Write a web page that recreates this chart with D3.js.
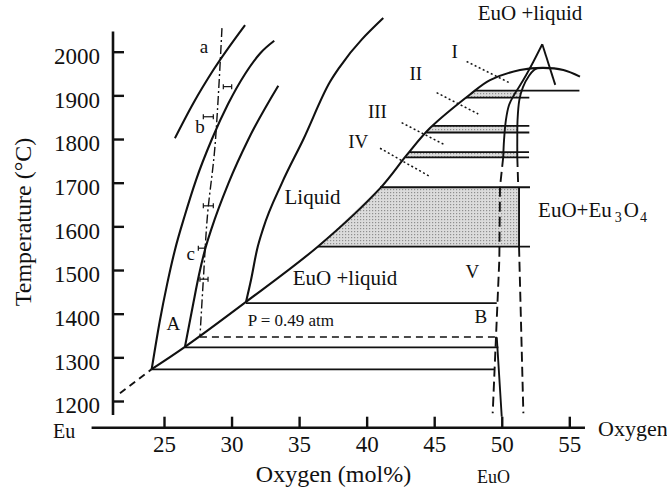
<!DOCTYPE html>
<html><head><meta charset="utf-8">
<script src="https://cdn.jsdelivr.net/npm/d3@7"></script>
<style>
html,body{margin:0;padding:0;background:#fff;}
svg{display:block;}
text{font-family:"Liberation Serif","Times New Roman","DejaVu Serif",serif;fill:#111;}
</style></head><body>
<svg id="chart" width="667" height="492"></svg>
<script>
// ---------- data (x: oxygen mol%, y: temperature °C) ----------
const xTicks = [25, 30, 35, 40, 45, 50, 55];
const yTicks = [1200, 1300, 1400, 1500, 1600, 1700, 1800, 1900, 2000];

const liquidusExt = [[21.74, 1218], [24.09, 1273]];
const liquidus = [[24.09, 1273], [26.55, 1324], [31.07, 1427], [36.40, 1554], [40.99, 1687],
  [42.96, 1763], [44.69, 1825], [47.65, 1902], [49.13, 1935], [51.35, 1958], [53.08, 1963],
  [54.56, 1958], [55.79, 1943]];
const curveA = [[25.81, 1802], [27.17, 1882], [28.65, 1958], [31.0, 2061]];
const curveB = [[24.09, 1273], [24.70, 1385], [25.22, 1466], [25.81, 1546], [26.55, 1626],
  [27.37, 1706], [28.55, 1800], [29.74, 1880], [31.0, 1949], [32.11, 1996], [33.16, 2025]];
const curveC = [[26.55, 1324], [27.17, 1424], [27.59, 1489], [28.03, 1546], [28.53, 1596],
  [29.76, 1698], [31.24, 1799], [33.46, 1922]];
const curveLiquid = [[31.07, 1427], [31.44, 1477], [31.88, 1546], [32.35, 1596], [33.71, 1698],
  [35.31, 1799], [37.29, 1931], [38.03, 1966], [41.23, 2077]];
const dashDot = [[29.29, 2054], [28.77, 1782], [28.22, 1626], [27.91, 1477], [27.66, 1347]];
const errorBars = [[29.39, 30.01, 1920], [27.91, 28.65, 1851], [27.91, 28.65, 1647],
  [27.54, 28.03, 1550], [27.66, 28.26, 1479]];

const tieT  = [1272.6, 1323, 1424, 1553.4, 1689.6, 1758, 1770, 1815, 1830, 1895, 1911];
const tieX0 = [24.09, 26.55, 31.07, 36.40, 40.99, 42.87, 43.16, 44.41, 44.88, 47.35, 48.03];
const tieX1 = [49.45, 49.75, 49.63, 52.09, 52.09, 52.02, 52.02, 52.04, 52.04, 52.04, 55.75];
const dashedTie = [[27.66, 49.63, 1346.6]];

const mainShade = [[36.40, 1553.4], [40.99, 1689.6], [51.28, 1689.6], [51.28, 1553.4]];
const bandPairs = [[5, 6, 51.15], [7, 8, 51.15], [9, 10, 51.4]];

const euoLeft = [[50.11, 1759], [50.17, 1798], [50.31, 1844], [50.54, 1878], [50.91, 1901],
  [51.28, 1919], [51.85, 1949], [52.34, 1977], [53.0, 2017]];
const lambdaRight = [[53.0, 2017], [53.96, 1924]];
const euoRight = [[51.15, 1759], [51.15, 1800], [51.17, 1844], [51.30, 1889], [51.57, 1919],
  [52.02, 1945], [52.39, 1958], [52.68, 1963]];
const euoLeftDashed = [[50.11, 1759], [49.87, 1690], [49.82, 1523], [49.33, 1172]];
const euoRightDashedUp = [[51.15, 1759], [51.22, 1690]];
const euoRightEdge = [[51.28, 1689.6], [51.28, 1553.4]];
const euoRightDashedLow = [[51.28, 1553.4], [51.6, 1172]];
const euoBottom = [[49.63, 1346], [50.0, 1164]];

const guides = [
  [[47.40, 1977.6], [50.61, 1928.1]],
  [[45.18, 1906.2], [48.26, 1857.4]],
  [[42.59, 1837.5], [45.80, 1786.3]],
  [[40.99, 1778.9], [44.69, 1713.9]]
];

const labels = [
  ["a", 27.96, 1996.4, "s"], ["b", 27.66, 1813.1, "s"], ["c", 26.98, 1523, "s"],
  ["A", 25.69, 1362.6, "s"], ["P = 0.49 atm", 34.39, 1371.8, "xs"], ["B", 48.45, 1378, "s"],
  ["V", 47.83, 1481, "s"], ["EuO +liquid", 38.40, 1465.7, "m"], ["Liquid", 35.99, 1651.2, "m"],
  ["I", 46.52, 1984.9, "s"], ["II", 43.64, 1935.2, "s"], ["III", 40.80, 1847.5, "s"],
  ["IV", 39.38, 1778.8, "s"], ["EuO +liquid", 52.09, 2071.5, "m"]
];

// ---------- drawing ----------
const svg = d3.select("#chart");
const x = d3.scaleLinear().domain([25, 55]).range([164, 569.3]);
const y = d3.scaleLinear().domain([1200, 2000]).range([401, 51.7]);
const straight = d3.line().x(d => x(d[0])).y(d => y(d[1]));
const smooth = d3.line().x(d => x(d[0])).y(d => y(d[1])).curve(d3.curveCatmullRom.alpha(0.5));
const mono = d3.line().x(d => x(d[0])).y(d => y(d[1])).curve(d3.curveMonotoneX);

const defs = svg.append("defs");
const pat = defs.append("pattern").attr("id", "stip").attr("width", 3).attr("height", 3)
  .attr("patternUnits", "userSpaceOnUse");
pat.append("rect").attr("width", 3).attr("height", 3).attr("fill", "#dcdcdc");
pat.append("rect").attr("width", 1.2).attr("height", 1.2).attr("fill", "#8f8f8f");

// shading
svg.append("path").attr("d", straight(mainShade) + "Z").attr("fill", "url(#stip)");
bandPairs.forEach(([i, j, xr]) => {
  const poly = [[tieX0[i], tieT[i]], [tieX0[j], tieT[j]], [xr, tieT[j]], [xr, tieT[i]]];
  svg.append("path").attr("d", straight(poly) + "Z").attr("fill", "url(#stip)");
});

const ink = "#111";
function draw(pts, gen, w, dash) {
  const p = svg.append("path").attr("d", gen(pts)).attr("fill", "none")
    .attr("stroke", ink).attr("stroke-width", w).attr("stroke-linecap", "butt");
  if (dash) p.attr("stroke-dasharray", dash);
  return p;
}

// tie lines
tieT.forEach((T, i) => draw([[tieX0[i], T], [tieX1[i], T]], straight, 1.8));
dashedTie.forEach(d => draw([[d[0], d[2]], [d[1], d[2]]], straight, 1.7, "7,5"));

// phase boundaries
draw(liquidusExt, straight, 1.9, "7,5");
draw(liquidus, smooth, 2.1);
draw(curveA, mono, 2.1);
draw(curveB, mono, 2.1);
draw(curveC, mono, 2.1);
draw(curveLiquid, mono, 2.1);
draw(dashDot, smooth, 1.4, "9,3,2,3");
draw(euoLeft, smooth, 1.9);
draw(lambdaRight, straight, 1.9);
draw(euoRight, smooth, 1.9);
draw(euoLeftDashed, straight, 1.9, "10,5");
draw(euoRightDashedUp, straight, 1.9, "10,5");
draw(euoRightEdge, straight, 1.9);
draw(euoRightDashedLow, straight, 1.9, "10,5");
draw(euoBottom, straight, 1.9);
guides.forEach(g => draw(g, straight, 1.5, "2,2.5"));

// error bars
errorBars.forEach(([a, b, T]) => {
  draw([[a, T], [b, T]], straight, 1.2);
  [a, b].forEach(v => svg.append("line").attr("x1", x(v)).attr("x2", x(v))
    .attr("y1", y(T) - 2.5).attr("y2", y(T) + 2.5).attr("stroke", ink).attr("stroke-width", 1.2));
});

// axes
const yAxisX = 113, xAxisY = 427.7;
const gy = svg.append("g").attr("transform", `translate(${yAxisX},0)`)
  .call(d3.axisLeft(y).tickValues(yTicks).tickSize(-11).tickPadding(13).tickFormat(d3.format("d")));
gy.select(".domain").remove();
gy.selectAll(".tick line").attr("stroke", ink).attr("stroke-width", 2.4);
gy.selectAll(".tick text").attr("font-size", 23).attr("dy", "0.52em");
gy.attr("font-family", null);
svg.append("line").attr("x1", yAxisX).attr("x2", yAxisX).attr("y1", y(2046)).attr("y2", y(1168))
  .attr("stroke", ink).attr("stroke-width", 2.6);

const gx = svg.append("g").attr("transform", `translate(0,${xAxisY})`)
  .call(d3.axisBottom(x).tickValues(xTicks).tickSize(-11).tickPadding(8));
gx.select(".domain").remove();
gx.selectAll(".tick line").attr("stroke", ink).attr("stroke-width", 2.4);
gx.selectAll(".tick text").attr("font-size", 23);
gx.attr("font-family", null);
svg.append("line").attr("x1", x(19.64)).attr("x2", x(56.16)).attr("y1", xAxisY).attr("y2", xAxisY)
  .attr("stroke", ink).attr("stroke-width", 2.6);

// labels
const sizes = { xs: 17, s: 19, m: 21 };
labels.forEach(([t, v, T, k]) => {
  svg.append("text").attr("x", x(v)).attr("y", y(T)).attr("text-anchor", "middle")
    .attr("font-size", sizes[k]).text(t);
});
const eu = svg.append("text").attr("x", x(52.69)).attr("y", y(1621.4)).attr("font-size", 21);
eu.append("tspan").text("EuO+Eu");
eu.append("tspan").attr("font-size", 14).attr("dx", 3).attr("dy", 5).text("3");
eu.append("tspan").attr("dx", 2).attr("dy", -5).text("O");
eu.append("tspan").attr("font-size", 14).attr("dx", 1).attr("dy", 5).text("4");

svg.append("text").attr("x", 53).attr("y", 438).attr("font-size", 20).text("Eu");
svg.append("text").attr("x", 598).attr("y", 436).attr("font-size", 22).text("Oxygen");
svg.append("text").attr("x", 493.5).attr("y", 483).attr("text-anchor", "middle").attr("font-size", 18).text("EuO");
svg.append("text").attr("x", 333.5).attr("y", 482).attr("text-anchor", "middle").attr("font-size", 24).text("Oxygen (mol%)");
svg.append("text").attr("transform", "translate(31,222) rotate(-90)").attr("text-anchor", "middle")
  .attr("font-size", 24).text("Temperature (°C)");
</script>
</body></html>
